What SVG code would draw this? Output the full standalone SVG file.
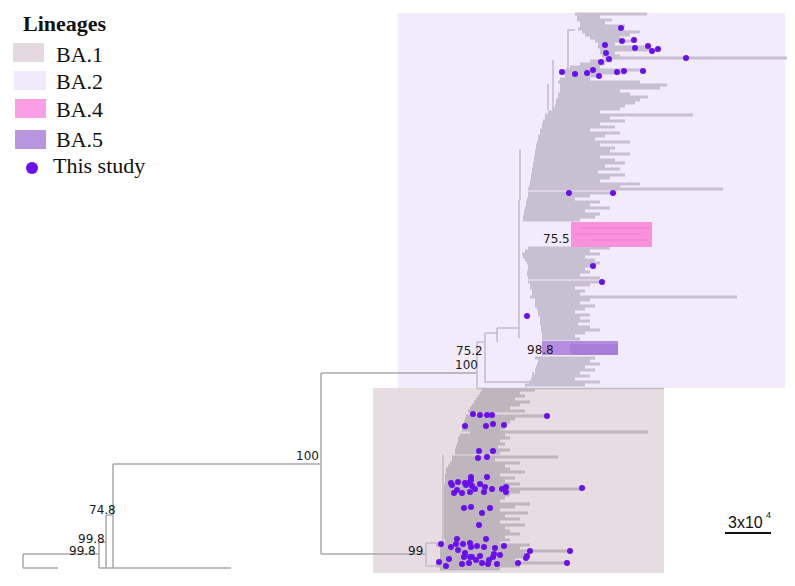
<svg xmlns="http://www.w3.org/2000/svg" width="795" height="586" viewBox="0 0 795 586">
<style>
.leg{font-family:"Liberation Serif","Times New Roman",serif;font-size:22px;fill:#111}
.lab{font-family:"DejaVu Sans",Verdana,sans-serif;font-size:12px;fill:#1a1a1a}
.br{fill:none;stroke:#a9a9a9;stroke-width:1.5}
.bb{fill:none;stroke:#c3bbcc;stroke-width:1.5}
.m2{fill:none;stroke:#c7c0d1;stroke-width:3}
.m1{fill:none;stroke:#beb6bc;stroke-width:3}
.d{fill:#6a10ef}
</style>
<rect width="795" height="586" fill="#ffffff"/>
<g id="legend">
<text x="23" y="31" class="leg" style="font-weight:bold">Lineages</text>
<g id="leg-ba1"><rect x="13" y="43" width="31" height="19" fill="#e4d9de"/><text x="56" y="62" class="leg">BA.1</text></g>
<g id="leg-ba2"><rect x="14" y="71" width="32" height="19" fill="#f1eafb"/><text x="56" y="89" class="leg">BA.2</text></g>
<g id="leg-ba4"><rect x="15" y="99" width="31" height="19" fill="#fb9ee6"/><text x="56" y="117" class="leg">BA.4</text></g>
<g id="leg-ba5"><rect x="15" y="130" width="31" height="19" fill="#b995e0"/><text x="56" y="147" class="leg">BA.5</text></g>
<g id="leg-study"><circle cx="32" cy="168" r="6" class="d"/><text x="53" y="173" class="leg">This study</text></g>
</g>
<g id="clade-ba2"><rect x="398" y="13" width="387" height="375" fill="#f2ebfc"/></g>
<g id="clade-ba1"><rect x="373" y="388" width="291" height="185" fill="#e6dce1"/></g>
<g id="connectors">
<path class="br" d="M23 554V568M23 554H99M23 568H58M99 542V568M99 568H128M99 542H106M106 515V568M106 515H113M113 464V568M113 568H231M113 464H321M321 373V554M321 373H477M321 554H426"/>
<path class="bb" d="M477 342V388M477 342H485M485 333V382H533M533 372V386M485 333H497M497 328V342M497 328H519M519 338V200M520 200V150M553 60V110M568 30V72M568 30H575M568 72H575M548 84V110M477 388.5H664"/>
<path class="bb" d="M426 543V566M426 543H443M443 455V543M426 566H445"/>
</g>
<g id="ba2-tree">
<path class="m2" d="M575 14H647M577 17H600M577 20H612M580 23H605M580 26H625M578 29H621M582 32H640M585 35H630M590 38H620M595 41H634M598 44H615M598 47H648M600 50H658M600 53H615M602 56H620M605 58H787M590 61H612M580 64H605M570 67H600M565 70H643M562 73H625M565 76H600M560 79H590M558 82H640M560 85H667M560 88H660M560 91H620M558 94H630M558 97H648M556 100H640M556 103H635M555 106H625M552 109H620M548 112H600M545 115H693M545 118H610M543 121H625M542 124H600M542 127H615M540 130H590M540 133H620M538 136H605M538 139H595M537 142H630M536 145H600M536 148H615M535 151H610M535 154H630M534 157H600M534 160H615M533 163H625M533 166H605M532 169H620M532 172H598M531 175H625M531 178H610M530 181H600M530 184H640M529 187H620M528 189H723M528 193H613M528 196H590M527 199H575M526 202H600M526 205H590M525 208H610M524 211H585M524 214H600M523 217H595M523 220H580M528 248H610M525 251H590M522 254H600M523 257H585M525 260H595M527 263H600M528 266H593M528 269H585M527 272H590M527 275H580M528 278H600M528 282H602M530 285H590M530 288H575M532 291H585M532 294H580M530 297H737M535 300H590M535 303H580M535 306H595M537 309H585M538 312H575M538 315H590M540 318H580M540 321H590M540 324H578M541 327H590M541 330H600M542 333H585M542 336H575M542 339H580M535 358H595M538 361H590M537 364H600M536 367H585M535 370H595M535 373H580M533 376H590M531 379H575M529 382H600M525 385H585"/>
</g>
<g id="ba1-tree">
<path class="m1" d="M482 390H535M480 393H520M478 396H525M476 399H515M474 402H530M472 405H520M470 408H510M468 411H525M466 416H547M465 419H515M464 422H510M463 425H505M462 428H505M462 430H500M470 432H648M460 435H505M458 438H510M458 441H500M457 444H505M456 447H498M455 450H510M455 453H500M452 457H558M452 460H495M450 463H520M448 466H505M446 469H510M446 472H525M445 475H500M445 478H515M445 481H505M445 484H520M444 486H510M444 489H582M444 492H520M444 495H510M444 498H505M444 501H500M444 504H530M444 507H515M444 510H500M444 513H528M444 516H505M444 519H520M444 522H500M444 525H525M444 528H505M444 531H510M444 534H520M444 537H505M445 540H510M445 542H500M436 545H530M440 548H520M440 551H570M440 554H525M440 557H530M440 560H515M438 563H567M436 566H520M440 569H500"/>
</g>
<g id="clade-ba4">
<rect x="571" y="222" width="81" height="25" fill="#f991dd"/>
<path d="M580 228H650M575 234H640M590 240H648" stroke="#f283d5" stroke-width="1.5" fill="none"/>
</g>
<g id="clade-ba5">
<rect x="542" y="341" width="76" height="14" fill="#b68ce1"/>
<rect x="570" y="344" width="48" height="11" fill="#a87ed8"/>
</g>
<g id="labels">
<text x="89" y="514" class="lab">74.8</text>
<text x="78" y="543" class="lab">99.8</text>
<text x="69" y="555" class="lab">99.8</text>
<text x="296" y="460" class="lab">100</text>
<text x="408" y="555" class="lab">99</text>
<text x="456" y="355" class="lab">75.2</text>
<text x="455" y="369" class="lab">100</text>
<text x="527" y="354" class="lab">98.8</text>
<text x="543" y="243" class="lab">75.5</text>
</g>
<g id="dots-ba2">
<circle cx="621" cy="28" r="3" class="d"/><circle cx="622" cy="41" r="3" class="d"/><circle cx="634" cy="40" r="3" class="d"/><circle cx="605" cy="45" r="3" class="d"/><circle cx="635" cy="48" r="3" class="d"/><circle cx="648" cy="46" r="3" class="d"/><circle cx="652" cy="51" r="3" class="d"/><circle cx="658" cy="49" r="3" class="d"/><circle cx="606" cy="53" r="3" class="d"/><circle cx="609" cy="59" r="3" class="d"/><circle cx="601" cy="62" r="3" class="d"/><circle cx="686" cy="58" r="3" class="d"/><circle cx="562" cy="72" r="3" class="d"/><circle cx="575" cy="74" r="3" class="d"/><circle cx="587" cy="73" r="3" class="d"/><circle cx="593" cy="70" r="3" class="d"/><circle cx="599" cy="76" r="3" class="d"/><circle cx="617" cy="72" r="3" class="d"/><circle cx="624" cy="71" r="3" class="d"/><circle cx="643" cy="71" r="3" class="d"/><circle cx="569" cy="193" r="3" class="d"/><circle cx="613" cy="193" r="3" class="d"/><circle cx="593" cy="266" r="3" class="d"/><circle cx="602" cy="282" r="3" class="d"/><circle cx="527" cy="316" r="3" class="d"/>
</g>
<g id="dots-ba1">
<circle cx="473" cy="414" r="3" class="d"/><circle cx="480" cy="415" r="3" class="d"/><circle cx="487" cy="415" r="3" class="d"/><circle cx="492" cy="415" r="3" class="d"/><circle cx="547" cy="416" r="3" class="d"/><circle cx="465" cy="426" r="3" class="d"/><circle cx="486" cy="426" r="3" class="d"/><circle cx="493" cy="424" r="3" class="d"/><circle cx="504" cy="425" r="3" class="d"/><circle cx="479" cy="451" r="3" class="d"/><circle cx="493" cy="451" r="3" class="d"/><circle cx="478" cy="458" r="3" class="d"/><circle cx="487" cy="457" r="3" class="d"/><circle cx="471" cy="477" r="3" class="d"/><circle cx="487" cy="477" r="3" class="d"/><circle cx="451" cy="483" r="3" class="d"/><circle cx="452" cy="485" r="3" class="d"/><circle cx="458" cy="482" r="3" class="d"/><circle cx="465" cy="483" r="3" class="d"/><circle cx="466" cy="485" r="3" class="d"/><circle cx="470" cy="482" r="3" class="d"/><circle cx="471" cy="480" r="3" class="d"/><circle cx="472" cy="486" r="3" class="d"/><circle cx="480" cy="484" r="3" class="d"/><circle cx="485" cy="487" r="3" class="d"/><circle cx="492" cy="489" r="3" class="d"/><circle cx="502" cy="489" r="3" class="d"/><circle cx="506" cy="487" r="3" class="d"/><circle cx="506" cy="492" r="3" class="d"/><circle cx="582" cy="488" r="3" class="d"/><circle cx="454" cy="493" r="3" class="d"/><circle cx="457" cy="490" r="3" class="d"/><circle cx="462" cy="493" r="3" class="d"/><circle cx="470" cy="492" r="3" class="d"/><circle cx="475" cy="489" r="3" class="d"/><circle cx="484" cy="492" r="3" class="d"/><circle cx="464" cy="508" r="3" class="d"/><circle cx="471" cy="507" r="3" class="d"/><circle cx="490" cy="508" r="3" class="d"/><circle cx="482" cy="513" r="3" class="d"/><circle cx="479" cy="525" r="3" class="d"/><circle cx="457" cy="539" r="3" class="d"/><circle cx="486" cy="539" r="3" class="d"/><circle cx="441" cy="544" r="3" class="d"/><circle cx="451" cy="547" r="3" class="d"/><circle cx="456" cy="544" r="3" class="d"/><circle cx="458" cy="550" r="3" class="d"/><circle cx="463" cy="544" r="3" class="d"/><circle cx="470" cy="543" r="3" class="d"/><circle cx="471" cy="547" r="3" class="d"/><circle cx="477" cy="546" r="3" class="d"/><circle cx="484" cy="547" r="3" class="d"/><circle cx="495" cy="548" r="3" class="d"/><circle cx="504" cy="546" r="3" class="d"/><circle cx="530" cy="551" r="3" class="d"/><circle cx="570" cy="551" r="3" class="d"/><circle cx="449" cy="559" r="3" class="d"/><circle cx="439" cy="562" r="3" class="d"/><circle cx="446" cy="566" r="3" class="d"/><circle cx="462" cy="564" r="3" class="d"/><circle cx="469" cy="563" r="3" class="d"/><circle cx="476" cy="560" r="3" class="d"/><circle cx="482" cy="563" r="3" class="d"/><circle cx="488" cy="564" r="3" class="d"/><circle cx="489" cy="560" r="3" class="d"/><circle cx="493" cy="557" r="3" class="d"/><circle cx="494" cy="554" r="3" class="d"/><circle cx="500" cy="555" r="3" class="d"/><circle cx="497" cy="564" r="3" class="d"/><circle cx="518" cy="563" r="3" class="d"/><circle cx="526" cy="558" r="3" class="d"/><circle cx="527" cy="556" r="3" class="d"/><circle cx="567" cy="563" r="3" class="d"/><circle cx="465" cy="553" r="3" class="d"/><circle cx="470" cy="557" r="3" class="d"/><circle cx="480" cy="556" r="3" class="d"/><circle cx="472" cy="557" r="3" class="d"/><circle cx="464" cy="557" r="3" class="d"/>
</g>
<g id="scalebar">
<line x1="725" y1="533" x2="771" y2="533" stroke="#111" stroke-width="2"/>
<text x="728" y="528" style="font-family:'Liberation Sans',Arial,sans-serif;font-size:16px;fill:#111">3x10</text>
<text x="766" y="518" style="font-family:'Liberation Sans',Arial,sans-serif;font-size:9px;fill:#111">4</text>
</g>
</svg>
